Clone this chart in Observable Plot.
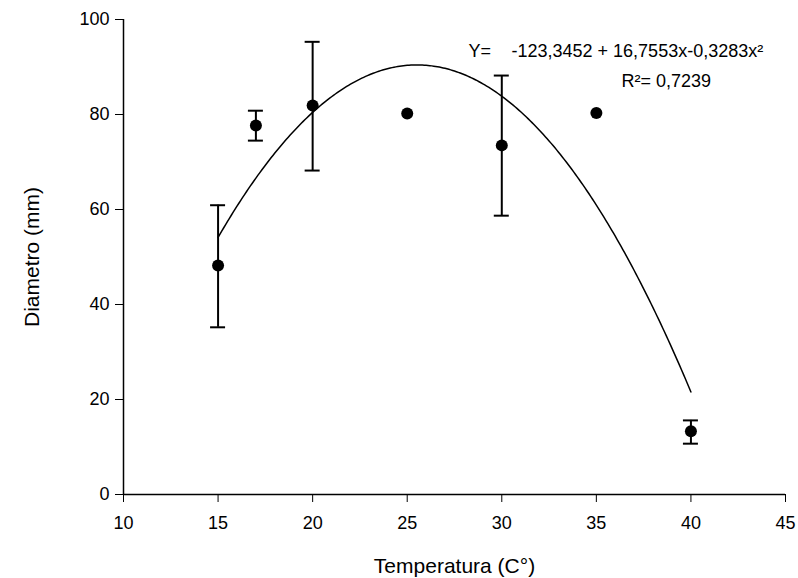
<!DOCTYPE html>
<html><head><meta charset="utf-8">
<script src="https://cdn.jsdelivr.net/npm/d3@7"></script>
<script src="https://cdn.jsdelivr.net/npm/@observablehq/plot@0.6"></script>
<style>body{margin:0;background:#fff}</style>
</head><body><div id="chart"></div>
<script>
// Data
const temps = [15, 17, 20, 25, 30, 35, 40];
const means = [48.2, 77.7, 81.9, 80.2, 73.5, 80.3, 13.3];
const upper = [60.9, 80.8, 95.3, 80.2, 88.2, 80.3, 15.6];
const lower = [35.2, 74.5, 68.2, 80.2, 58.7, 80.3, 10.7];
// Fitted quadratic shown on the chart: Y = a + b x + c x^2
const coef = [-123.3452, 16.7553, -0.3283];
const curveRange = [15, 40];
const xTicks = [10, 15, 20, 25, 30, 35, 40, 45];
const yTicks = [0, 20, 40, 60, 80, 100];
const xLabel = "Temperatura (C°)";
const yLabel = "Diametro (mm)";
const eqText1 = "Y=";
const eqText2 = "-123,3452 + 16,7553x-0,3283x²";
const eqText3 = "R²= 0,7239";

const pts = temps.map((t, i) => ({x: t, y: means[i], hi: upper[i], lo: lower[i]}));
const bars = pts.filter(d => d.hi > d.lo);
const curve = d3.range(curveRange[0], curveRange[1] + 0.001, 0.1)
  .map(x => ({x, y: coef[0] + coef[1] * x + coef[2] * x * x}));

const font = "'Liberation Sans', Arial, sans-serif";
const chart = Plot.plot({
  width: 798, height: 578,
  marginLeft: 123, marginRight: 13, marginTop: 19, marginBottom: 84,
  style: {fontFamily: font, fontSize: "18px", color: "black", background: "white"},
  x: {domain: [10, 45]},
  y: {domain: [0, 100]},
  marks: [
    Plot.axisX({ticks: xTicks, tickSize: 8, tickPadding: 14, label: null, fontSize: 18}),
    Plot.axisY({ticks: yTicks, tickSize: 8, tickPadding: 6, label: null, fontSize: 18}),
    Plot.ruleX([10], {y1: 0, y2: 100, strokeWidth: 1.5}),
    Plot.ruleY([0], {x1: 10, x2: 45, strokeWidth: 1.5}),
    Plot.line(curve, {x: "x", y: "y", stroke: "black", strokeWidth: 1.5, curve: "linear"}),
    Plot.ruleX(bars, {x: "x", y1: "lo", y2: "hi", strokeWidth: 2}),
    Plot.ruleY(bars, {y: "hi", x1: "x", x2: "x", insetLeft: -7.5, insetRight: -7.5, strokeWidth: 2}),
    Plot.ruleY(bars, {y: "lo", x1: "x", x2: "x", insetLeft: -7.5, insetRight: -7.5, strokeWidth: 2}),
    Plot.dot(pts, {x: "x", y: "y", r: 6, fill: "black", stroke: null}),
    Plot.text([xLabel], {x: () => 27.5, y: () => 0, dy: 72, fontSize: 21, text: d => d}),
    Plot.text([yLabel], {x: () => 10, y: () => 50, dx: -91, rotate: -90, fontSize: 21, text: d => d}),
    Plot.text([eqText1], {frameAnchor: "top-left", dx: 468 - 123, dy: 56 - 19, textAnchor: "start", lineAnchor: "bottom", fontSize: 18, text: d => d}),
    Plot.text([eqText2], {frameAnchor: "top-left", dx: 511 - 123, dy: 56 - 19, textAnchor: "start", lineAnchor: "bottom", fontSize: 18, text: d => d}),
    Plot.text([eqText3], {frameAnchor: "top-left", dx: 621 - 123, dy: 86 - 19, textAnchor: "start", lineAnchor: "bottom", fontSize: 18, text: d => d})
  ]
});
document.getElementById("chart").appendChild(chart);
</script>
</body></html>
